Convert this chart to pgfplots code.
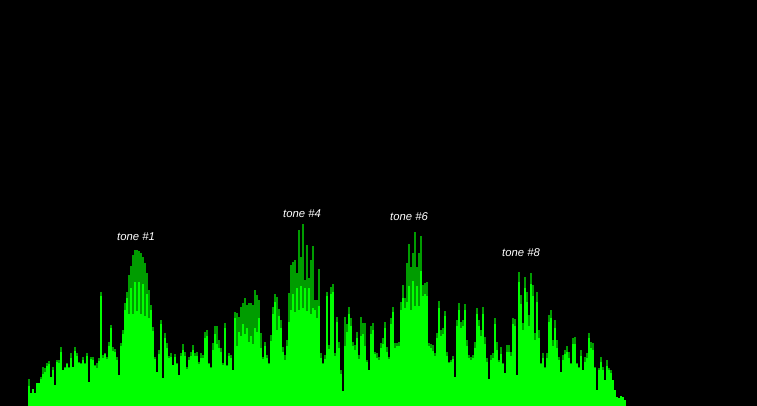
\documentclass[border=0pt]{standalone}
\usepackage{pgfplots}
\usepackage{pgfplotstable}
\usepackage{fontspec}
\setmainfont{Liberation Sans}
\pgfplotsset{compat=1.18}
\definecolor{darkg}{HTML}{009C00}
\definecolor{brightg}{HTML}{00FF00}
\pgfplotstableread{
x d b
29 27 20
31 13 13
33 17 17
35 13 13
37 23 23
39 23 23
41 29 27
43 39 32
45 38 34
47 43 40
49 45 42
51 29 29
53 39 36
55 21 21
57 46 44
59 46 43
61 59 54
63 36 36
65 39 38
67 43 42
69 39 38
71 53 48
73 39 39
75 59 55
77 53 50
79 44 43
81 43 42
83 49 46
85 43 42
87 53 50
89 24 24
91 49 47
93 49 46
95 41 40
97 43 38
99 48 45
101 114 110
103 51 48
105 53 52
107 49 47
109 64 60
111 81 78
113 59 55
115 57 54
117 49 46
119 31 31
121 63 60
123 76 72
125 103 96
127 114 108
129 131 92
131 140 118
133 151 92
135 156 124
137 156 95
139 155 124
141 153 92
143 149 122
145 143 90
147 133 112
149 116 88
151 101 96
153 79 75
155 49 47
157 34 34
159 56 52
161 86 82
163 28 28
165 73 68
167 63 58
169 50 48
171 53 49
173 41 41
175 52 49
177 43 42
179 31 31
181 53 50
183 62 56
185 54 50
187 39 37
189 49 46
191 54 50
193 61 56
195 53 50
197 54 50
199 44 42
201 53 48
203 51 48
205 74 68
207 76 70
209 43 42
211 39 38
213 63 56
215 80 72
217 80 62
219 66 58
221 58 54
223 43 41
225 83 78
227 41 40
229 53 50
231 51 48
233 36 36
235 94 88
237 93 60
239 89 74
241 99 70
243 103 82
245 108 72
247 101 78
249 103 64
251 103 70
253 101 62
255 116 78
257 111 74
259 106 88
261 73 58
263 49 47
265 64 60
267 51 48
269 43 42
271 71 65
273 99 92
275 112 104
277 109 76
279 97 90
281 86 78
283 59 54
285 51 46
287 66 60
289 113 84
291 141 96
293 144 112
295 146 94
297 133 118
299 176 96
301 149 120
303 182 98
305 126 118
307 161 95
309 128 118
311 146 92
313 160 98
315 106 96
317 106 88
319 137 100
321 53 48
323 43 42
325 51 47
327 114 110
329 61 57
331 119 112
333 122 114
335 53 50
337 89 84
339 64 58
341 36 32
343 15 15
345 89 60
347 82 74
349 99 92
351 88 80
353 64 60
355 61 56
357 74 68
359 51 47
361 89 70
363 83 72
365 83 60
367 46 44
369 36 36
371 80 72
373 83 76
375 54 52
377 53 48
379 49 46
381 63 58
383 68 62
385 84 78
387 59 54
389 49 47
391 88 82
393 99 94
395 63 58
397 63 60
399 64 60
401 104 96
403 121 108
405 108 98
407 143 104
409 162 120
411 139 96
413 153 125
415 174 100
417 139 120
419 153 100
421 170 135
423 121 110
425 123 112
427 124 110
429 63 60
431 62 58
433 61 55
435 53 50
437 73 68
439 105 98
441 76 70
443 78 72
445 95 90
447 54 50
449 44 43
451 46 44
453 50 47
455 29 29
457 86 80
459 103 96
461 84 78
463 86 80
465 102 96
467 66 60
469 51 48
471 49 46
473 51 48
475 64 58
477 98 92
479 86 80
481 76 70
483 99 92
485 69 62
487 48 44
489 27 27
491 51 46
493 53 48
495 88 82
497 64 56
499 46 44
501 59 52
503 43 42
505 33 33
507 61 54
509 61 54
511 54 50
513 88 82
515 87 80
517 31 31
519 134 124
521 111 102
523 83 76
525 129 118
527 114 104
529 91 80
531 133 122
533 121 110
535 73 66
537 114 104
539 76 68
541 43 42
543 53 48
545 39 38
547 53 48
549 91 84
551 96 88
553 66 60
555 86 78
557 66 58
559 49 46
561 34 34
563 51 46
565 56 52
567 60 54
569 54 48
571 43 42
573 68 62
575 69 62
577 43 42
579 39 38
581 56 50
583 36 36
585 49 44
587 53 48
589 73 68
591 64 58
593 63 56
595 39 38
597 16 16
599 38 36
601 49 44
603 39 36
605 26 26
607 46 40
609 38 36
611 36 33
613 26 26
615 16 16
617 9 9
619 8 8
621 10 10
623 9 9
625 6 6
}\spectrum
\begin{document}
\begin{tikzpicture}
\begin{axis}[
  scale only axis, width=757pt, height=406pt,
  xmin=0, xmax=757, ymin=0, ymax=406,
  axis line style={draw=none}, xtick=\empty, ytick=\empty,
  axis background/.style={fill=black},
  clip=true,
]
\addplot[ycomb, no markers, line width=2pt, draw=darkg] table[x=x, y=d] {\spectrum};
\addplot[ycomb, no markers, line width=2pt, draw=brightg] table[x=x, y=b] {\spectrum};
\node[text=white, font=\fontsize{11.3}{13}\selectfont\itshape] at (axis cs:136,169) {tone \#1};
\node[text=white, font=\fontsize{11.3}{13}\selectfont\itshape] at (axis cs:302,192) {tone \#4};
\node[text=white, font=\fontsize{11.3}{13}\selectfont\itshape] at (axis cs:409,189) {tone \#6};
\node[text=white, font=\fontsize{11.3}{13}\selectfont\itshape] at (axis cs:521,153) {tone \#8};
\end{axis}
\end{tikzpicture}
\end{document}
